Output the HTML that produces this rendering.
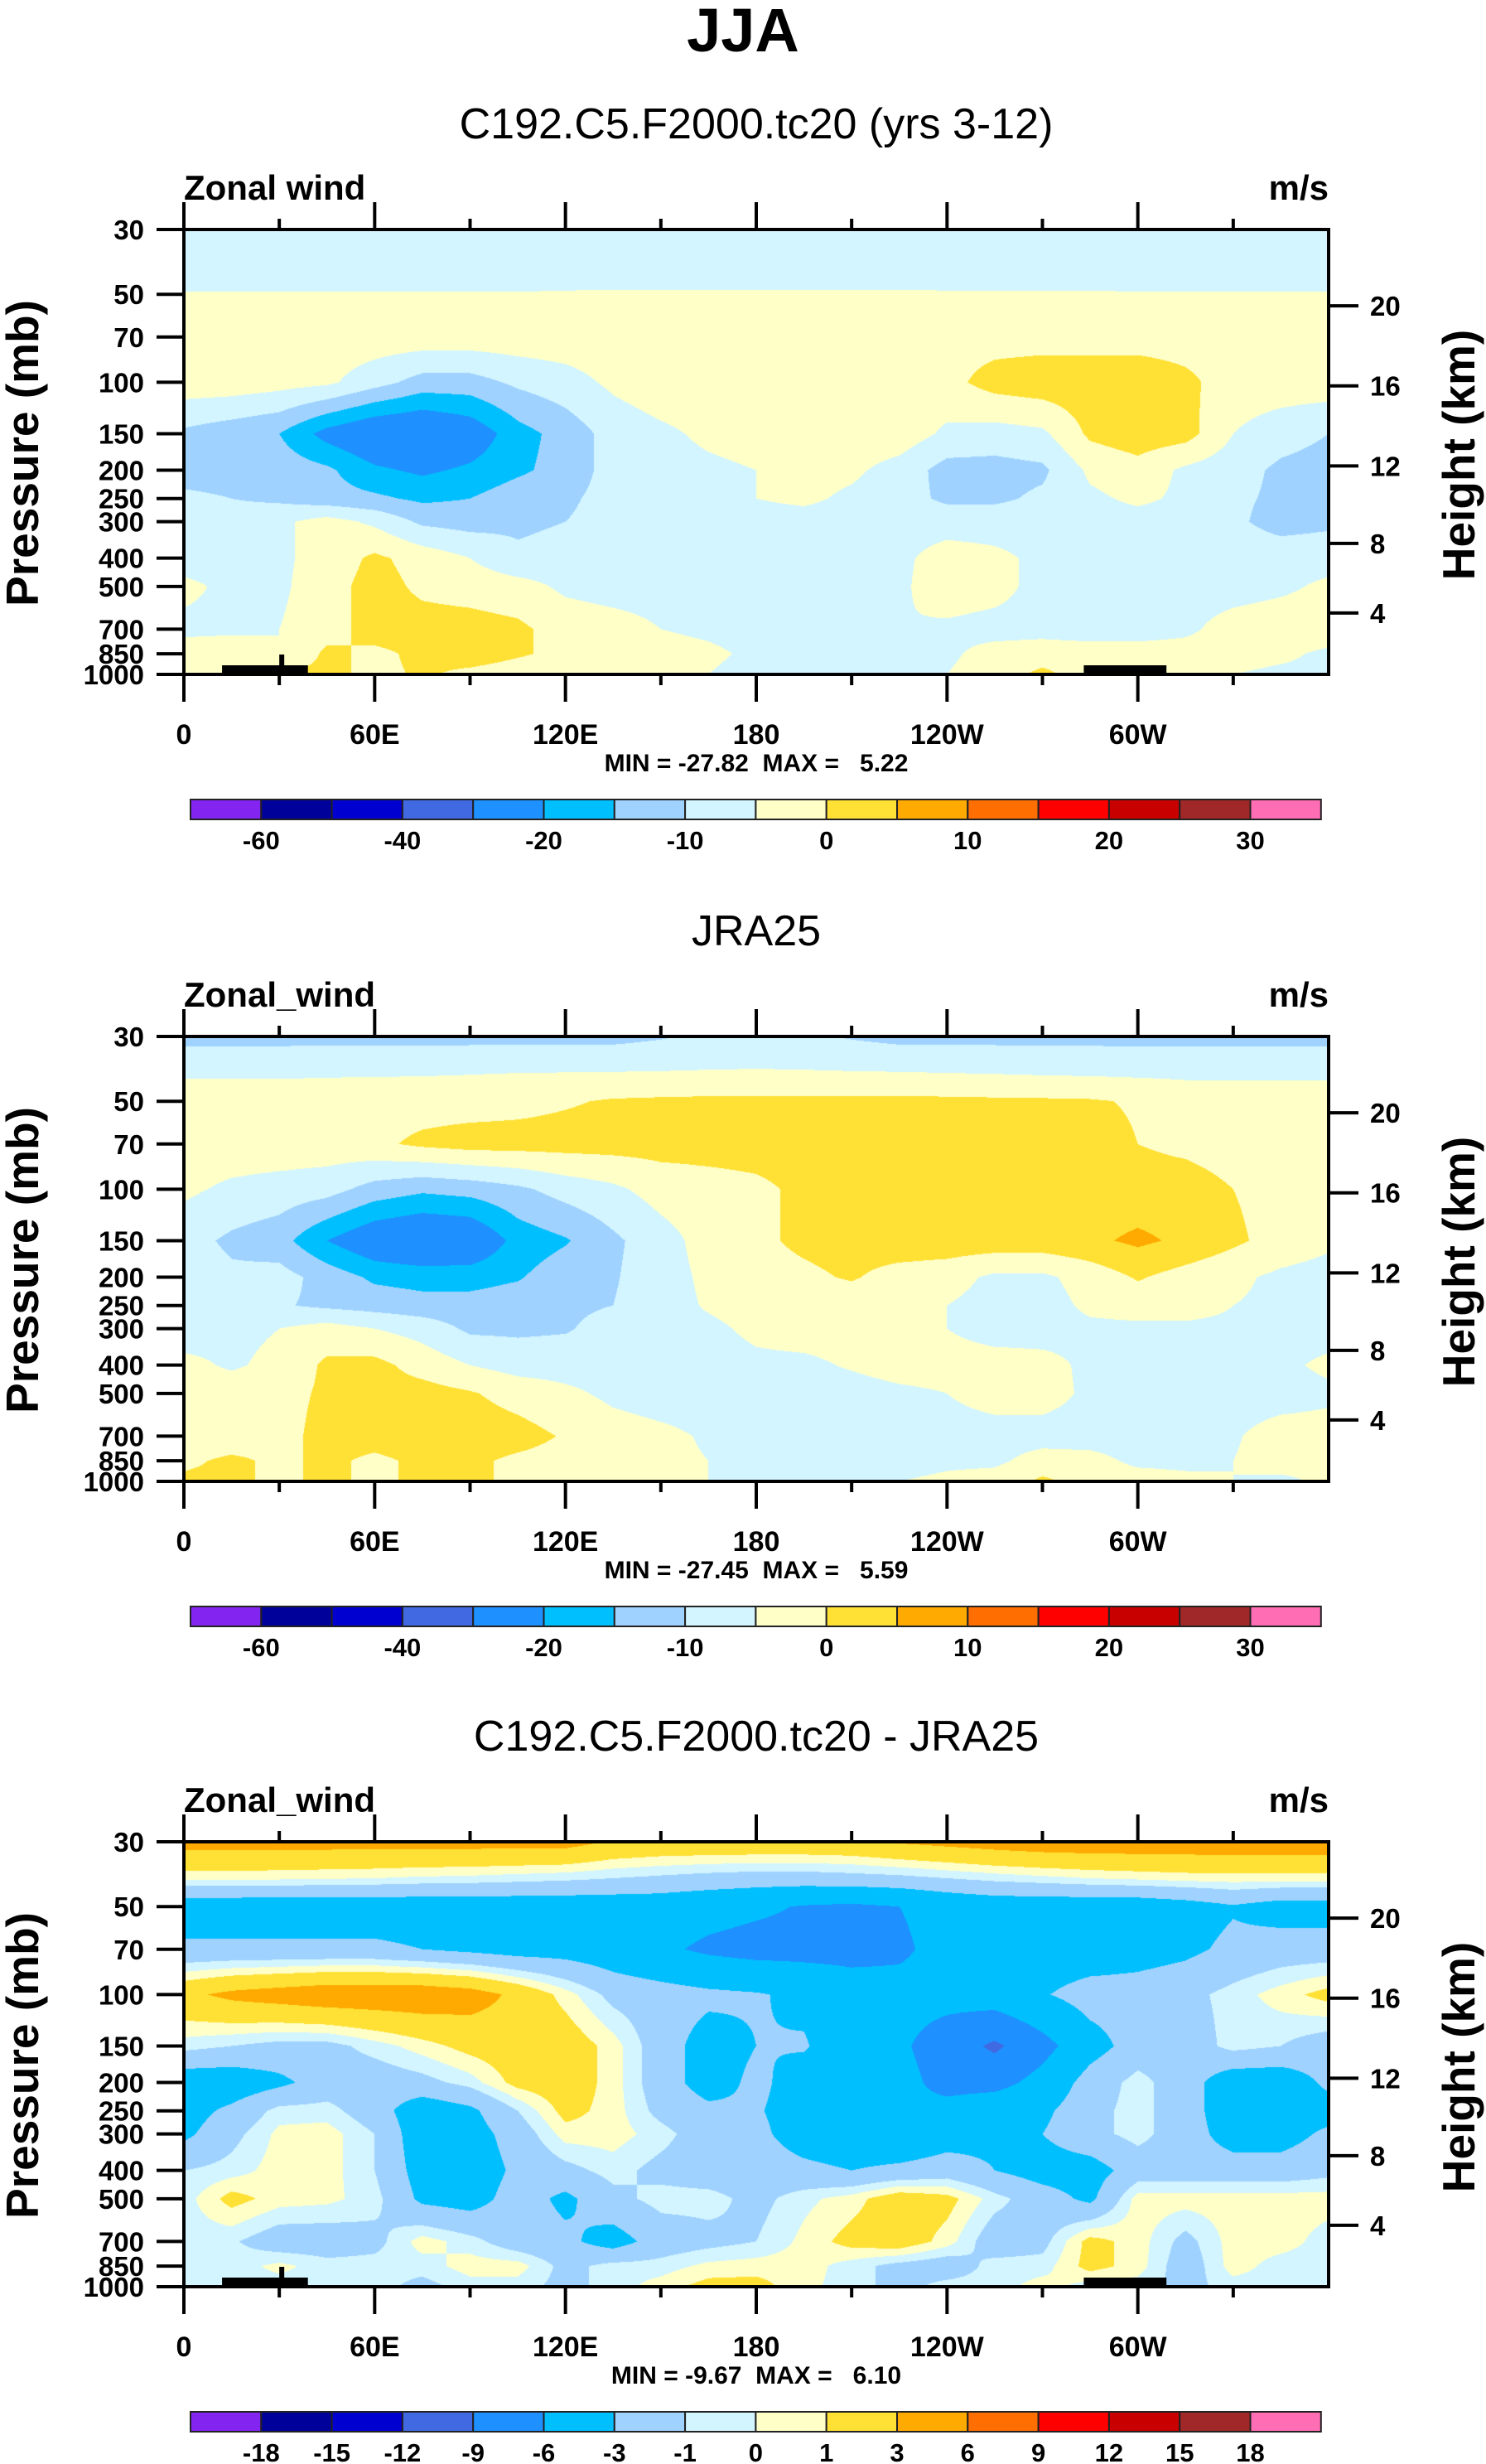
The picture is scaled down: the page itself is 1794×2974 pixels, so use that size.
<!DOCTYPE html>
<html><head><meta charset="utf-8">
<style>
html,body{margin:0;padding:0;background:#fff;}
#page{position:relative;width:1794px;height:2974px;overflow:hidden;background:#fff;}
canvas{position:absolute;}
svg{position:absolute;left:0;top:0;}
text{font-family:"Liberation Sans",sans-serif;fill:#000;}
</style></head>
<body>
<div id="page">
<canvas id="c0" width="1382" height="537" style="left:222px;top:277px"></canvas>
<canvas id="c1" width="1382" height="537" style="left:222px;top:1251px"></canvas>
<canvas id="c2" width="1382" height="537" style="left:222px;top:2223px"></canvas>
<svg id="ov" width="1794" height="2974" xmlns="http://www.w3.org/2000/svg">
<text x="897" y="62" text-anchor="middle" font-size="74" font-weight="bold">JJA</text>
</svg>
</div>
<script>
const levels=[30,40,50,70,100,150,200,250,300,400,500,700,850,1000];
const lonTicks=[0,60,120,180,240,300];
const lonLabels=["0","60E","120E","180","120W","60W"];
const pTicks=[30,50,70,100,150,200,250,300,400,500,700,850,1000];
const zTicks=[4,8,12,16,20];
const absBounds=[-60,-50,-40,-30,-20,-15,-10,-5,0,5,10,15,20,25,30];
const absLabels=["-60","-40","-20","-10","0","10","20","30"];
const absLabelIdx=[0,2,4,6,8,10,12,14];
const diffBounds=[-18,-15,-12,-9,-6,-3,-1,0,1,3,6,9,12,15,18];
const diffLabels=["-18","-15","-12","-9","-6","-3","-1","0","1","3","6","9","12","15","18"];
const diffLabelIdx=[0,1,2,3,4,5,6,7,8,9,10,11,12,13,14];
const colors=["#8424F0","#00009A","#0000D0","#4169E1","#1E90FF","#00BFFF","#A0D2FF","#D2F5FF","#FFFFC8","#FFE135","#FFAA00","#FF6E00","#FF0000","#C80000","#A02828","#FF6EB4"];
const titles=["C192.C5.F2000.tc20 (yrs 3-12)","JRA25","C192.C5.F2000.tc20 - JRA25"];
const leftTitles=["Zonal wind","Zonal_wind","Zonal_wind"];
const minVals=["-27.82","-27.45","-9.67"];
const maxVals=["5.22","5.59","6.10"];
const u1=[
[-8,-8,-8,-8,-8,-8,-8,-8,-8,-8,-8,-8,-8,-8,-8,-8,-8,-8,-8,-8,-8,-8,-8,-8,-8],
[-7,-7,-7,-7,-7,-7,-7,-7,-7,-7,-7,-7,-7,-7,-7,-7,-7,-7,-7,-7,-7,-7,-7,-7,-7],
[-4.8,-4.8,-4.8,-4.8,-4.8,-4.8,-4.8,-4.8,-4.7,-4.6,-4.6,-4.6,-4.6,-4.6,-4.6,-4.6,-4.7,-4.7,-4.7,-4.7,-4.8,-4.8,-4.8,-4.8,-4.8],
[-2,-2,-2,-2,-2,-2,-2,-2,-2,-2,-2,-2,-2,-2,-2,-2,-2,-2,-2,-2,-2,-2,-2,-2,-2],
[-2,-2,-3,-4,-8,-12,-12,-9,-7,-4,-2,-2,-2,-2,-2,-2,-1.5,2,3,3,3,1,-2,-2,-2],
[-11,-13,-15,-22,-26,-27,-24,-17,-13,-8,-6,-4,-3,-2,-2,-2,-6,-7,-6,1,3,2,-5,-8,-10],
[-12,-12,-12,-14,-19,-21,-19,-16,-13,-8,-7,-6,-5,-3,-4,-7,-12,-12,-11,-4,-2,-6,-8,-11,-12],
[-9,-10,-11,-13,-14,-16,-15,-12,-11,-8,-7,-6,-5,-4,-6,-8,-11,-11,-9,-6,-4,-6,-9,-11,-11],
[-10,-8,-6,-3,-6,-11,-12,-11,-10,-8,-7,-7,-7,-7,-7,-7,-7,-7,-7,-7,-7,-7,-9,-12,-11],
[-7,-7,-6,-3,1,-2,-5,-9,-8,-7,-7,-7,-7,-7,-7,-6,-3,-4,-6,-9,-7,-7,-7,-7,-7],
[-4,-6,-6,-2,2,-1,-2,-3,-6,-7,-7,-7,-7,-7,-7,-6,-2,-3,-7,-9,-7,-7,-7,-6,-4],
[-6,-6,-5,-2,2,2,2,1,-2,-3,-5,-6,-7,-7,-7,-5,-6,-7,-7,-8,-7,-6,-3,-2,-2],
[-3,-2,-5,1,-1,1,2,0.5,-1,-2,-3,-4,-6,-7,-7,-7,-6,-3,-2,-2,-3,-3,-3,-4,-6],
[-3,1,1,1,-1,0.5,-1,-2,-3,-4,-5,-5,-7,-7,-7,-7,-5,-2,1,-2,-3,-4,-5,-6,-6]];
const u2=[
[-11.5,-11.5,-11.5,-11.5,-11.5,-11.5,-11.5,-11.5,-11.5,-11.5,-10.5,-9,-9,-9,-10.5,-11.5,-11.5,-11.5,-11.5,-11.5,-11.5,-11.5,-11.5,-11.5,-11.5],
[-5.8,-5.8,-5.8,-5.6,-5.5,-5.4,-5.2,-5,-4.9,-4.8,-4.7,-4.6,-4.5,-4.6,-4.7,-4.8,-5,-5.2,-5.5,-5.7,-5.9,-6,-6,-6,-6],
[-2,-2,-2,-2,-2,-2,-2,-1.5,-0.5,0.5,0.8,1,1,1,1,1,1,0.8,0.7,0.5,-0.5,-2,-2,-2,-2],
[-2,-2,-2,-2,-1,1,2,2,2,2,2,2,2,2,2,2,2,2,2,2,0,-1,-2,-2,-2],
[-4,-6,-7,-8,-12,-14,-13,-11,-8,-6,-3,-2,-1,1,2,2,2,2,2,2,2,2,0,-2,-3],
[-8,-11,-13,-20,-25,-27,-26,-18,-15.5,-11,-7,-3,-1,1,2,3,3,3,3,4,6,4,1,-2,-4],
[-7,-9,-8,-12,-16,-17,-17,-15.5,-12,-10.5,-7,-4,-2,-1,0.5,-2,-3,-6,-6,-3,0.5,-2,-4,-6,-7],
[-7,-7,-9.5,-11,-12,-13,-13,-12,-11,-10,-7,-4.5,-3,-3,-3,-3,-5,-7,-7,-4,-3,-3,-5,-6,-7],
[-7,-6,-5,-3,-5,-7,-11,-11,-10.5,-8,-7,-6,-4,-3,-3,-4,-5,-7,-7,-6,-6,-6,-6,-7,-7],
[-4,-5.5,-4,1,1.5,-2,-5,-7,-7,-7,-7,-7,-6,-6,-4.5,-3,-3,-3,-3.5,-6,-7,-7,-7,-6,-4],
[-3,-3,-2,1,2,2,0.5,-2,-4,-6,-7,-7,-7,-7,-7,-6,-5,-3,-3,-6,-7,-7,-7,-7,-6],
[-3,-3,-2,2,2,3,3,2,-0.5,-3,-4,-5.5,-7,-7,-7,-7,-7,-7,-7,-7,-7,-7,-5.5,-3,-3],
[-1,1,-1,1,-1,1,1,-1,-2,-3,-4,-5,-7,-7,-7,-7,-6,-6,-3,-3.5,-6,-6,-5,-3,-4],
[1,1,-1,1,-1,1,1,-1,-2,-3,-4,-5,-7,-7,-6,-5,-4,-3,1,-2,-3,-4,-5,-6,-4]];
const u3=[
[3.8,3.8,3.8,3.8,3.8,3.8,3.8,3.8,3.8,2.8,2.5,2.5,2.5,2.5,2.6,3.2,3.6,4,4.3,4.4,4.4,4.4,4.4,4.4,4.4],
[0.3,0.3,0.2,0.1,0,-0.2,-0.3,-0.5,-0.7,-1,-1.3,-1.6,-1.8,-1.8,-1.6,-1.4,-1,-0.6,-0.3,0,0.2,0.4,0.5,0.5,0.5],
[-4.5,-4.5,-4.5,-4.5,-4.5,-4.5,-4.5,-4.5,-4.5,-4.5,-4.5,-5,-5.5,-6.2,-6.5,-6,-5,-4.5,-4.5,-4.5,-4.5,-4,-3.2,-4,-4],
[-2.5,-2.5,-2.5,-2.5,-2.5,-3,-3.5,-4,-4,-4.5,-5.5,-6.5,-7,-7,-7,-6.5,-5,-4.5,-4.5,-4.5,-4,-3.5,-2.5,-2,-2],
[2.5,3.5,4,4.5,4.5,4.5,4,2.5,0.5,-1.5,-2,-2.5,-2.8,-3.5,-4.5,-5,-5,-4.5,-3.2,-2,-2,-1.5,-0.5,0.5,1.5],
[-0.5,-1,-1.5,-1.5,-0.5,0.5,1.5,2,2,0.5,-2,-4,-3,-2.8,-4.5,-5.5,-7.5,-9.5,-7,-4,-2,-2,-0.5,-1,-2],
[-4.5,-4.5,-3.5,-2,-2,-1.5,-0.5,1.5,2,0.5,-2,-4,-2.5,-4,-4.5,-5,-7,-7,-5,-2,-0.5,-2,-4.5,-4.5,-2.5],
[-4,-2.5,-0.5,-0.5,-2,-4.5,-3.5,-1,1.5,0.5,-1.5,-2.5,-2.8,-4,-5,-5.5,-5,-4,-3.5,-1.5,-0.5,-2,-4.5,-4.5,-4],
[-3.5,-1.5,0.3,0.5,-1,-4.5,-4,-2,0.5,0.5,-0.5,-2,-2.5,-4,-4.5,-5,-4,-3.5,-3,-1.5,-0.5,-2,-4,-4,-2.5],
[-1,-0.5,0.5,0.5,-1,-4,-4.5,-2.5,-1.5,-0.5,-1.5,-2,-2,-2.5,-3,-2.5,-2,-3,-4,-4,-2,-2,-2,-2,-1.5],
[-0.5,1.5,0.5,0.3,-0.5,-3.5,-4,-2,-3.5,-1.5,-0.5,-0.5,-1.5,-0.3,0.5,2,1.5,-0.5,-2,-3.5,0.5,0.5,0.5,0.5,0.5],
[-0.5,-0.8,-2,-2,-1.5,0.5,-0.5,-2,-2.5,-4,-2,-1.5,-1,0.3,1.5,2,0.5,-2,-1.5,1.5,0.5,-1.5,0.5,0.5,-0.5],
[-0.5,-0.5,0.3,-0.5,-0.5,-0.5,0.5,0.5,-1.5,-0.5,-0.5,0.3,0.5,0.5,-0.5,-1.5,-2,-0.5,-0.5,1.5,0.5,-2,0.5,-0.5,-0.5],
[-0.5,-0.5,-0.5,-0.5,-0.5,-1.5,-0.5,-0.5,-1.5,-0.5,0.5,1.5,1.5,0.3,-0.5,-1.5,-0.5,-0.5,0.5,-0.5,-0.5,-1.5,-0.5,-0.5,-0.5]];

const NS="http://www.w3.org/2000/svg";
const ov=document.getElementById('ov');
const PX0=222,PX1=1604,PH=537;
const panelTops=[277,1251,2223];
const W=PX1-PX0;
const lnTop=Math.log(30),lnBot=Math.log(1000);
function yOfP(p){return PH*(Math.log(p)-lnTop)/(lnBot-lnTop);}
function xOfLon(l){return W*l/360;}
function pOfZ(zkm){const z=zkm*1000;if(z<=11000)return 1013.25*Math.pow(1-2.25577e-5*z,5.25588);return 226.32*Math.exp(-(z-11000)/6341.6);}
function hexRGB(h){return [parseInt(h.substr(1,2),16),parseInt(h.substr(3,2),16),parseInt(h.substr(5,2),16)];}
const rgb=colors.map(hexRGB);

function drawField(cid,grid,bounds){
  const cv=document.getElementById(cid);const ctx=cv.getContext('2d');
  const img=ctx.createImageData(W,PH);const d=img.data;
  const lnl=levels.map(Math.log);
  const ri=[],rf=[];
  for(let py=0;py<PH;py++){
    const lp=lnTop+(py+0.5)/PH*(lnBot-lnTop);
    let k=0;while(k<levels.length-2&&lnl[k+1]<lp)k++;
    ri.push(k);rf.push(Math.min(1,Math.max(0,(lp-lnl[k])/(lnl[k+1]-lnl[k]))));
  }
  for(let px=0;px<W;px++){
    const fx=(px+0.5)/W*24;let i=Math.min(23,Math.floor(fx));const tx=fx-i;
    for(let py=0;py<PH;py++){
      const k=ri[py],ty=rf[py];
      const a=grid[k][i]*(1-tx)+grid[k][i+1]*tx;
      const b=grid[k+1][i]*(1-tx)+grid[k+1][i+1]*tx;
      const v=a*(1-ty)+b*ty;
      let c=0;while(c<bounds.length&&v>=bounds[c])c++;
      const o=(py*W+px)*4;const col=rgb[c];
      d[o]=col[0];d[o+1]=col[1];d[o+2]=col[2];d[o+3]=255;
    }
  }
  ctx.putImageData(img,0,0);
}
drawField('c0',u1,absBounds);
drawField('c1',u2,absBounds);
drawField('c2',u3,diffBounds);

function mk(tag,attrs,txt){const e=document.createElementNS(NS,tag);for(const k in attrs)e.setAttribute(k,attrs[k]);if(txt!==undefined)e.textContent=txt;ov.appendChild(e);return e;}

for(let p=0;p<3;p++){
  const T=panelTops[p];
  let e;
  e=mk('text',{x:913,y:T-110,'text-anchor':'middle','font-size':52},titles[p]);
  
  
  e=mk('text',{x:PX0,y:T-36,'font-size':42,'font-weight':'bold'},leftTitles[p]);
  
  
  e=mk('text',{x:PX1,y:T-36,'text-anchor':'end','font-size':42,'font-weight':'bold'},'m/s');
  
  
  if(p!==1){
    const tb=T+PH;
    e=mk('rect',{x:PX0+xOfLon(12),y:tb-11,width:xOfLon(27),height:11,fill:'#000'});
    
    
    e=mk('rect',{x:PX0+xOfLon(30),y:tb-24,width:6,height:24,fill:'#000'});
    
    
    e=mk('rect',{x:PX0+xOfLon(283),y:tb-11,width:xOfLon(26),height:11,fill:'#000'});
    
    
  }
  e=mk('rect',{x:PX0,y:T,width:W,height:PH,fill:'none',stroke:'#000','stroke-width':4});
  
  
  for(let l=0;l<=330;l+=30){
    const x=PX0+xOfLon(l);const len=(l%60===0)?33:13;
    e=mk('line',{x1:x,y1:T,x2:x,y2:T-len,stroke:'#000','stroke-width':4});
    
    
    e=mk('line',{x1:x,y1:T+PH,x2:x,y2:T+PH+len,stroke:'#000','stroke-width':4});
    
    
  }
  lonTicks.forEach((l,i)=>{
    const t=mk('text',{x:PX0+xOfLon(l),y:T+PH+84,'text-anchor':'middle','font-size':34,'font-weight':'bold'},lonLabels[i]);
    
    
  });
  pTicks.forEach(pv=>{
    const y=T+yOfP(pv);
    const l=mk('line',{x1:PX0-33,y1:y,x2:PX0,y2:y,stroke:'#000','stroke-width':4});
    
    
    const t=mk('text',{x:PX0-48,y:y+12,'text-anchor':'end','font-size':33,'font-weight':'bold'},String(pv));
    
    
  });
  zTicks.forEach(z=>{
    const y=T+yOfP(pOfZ(z));
    const l=mk('line',{x1:PX1,y1:y,x2:PX1+36,y2:y,stroke:'#000','stroke-width':4});
    
    
    const t=mk('text',{x:PX1+50,y:y+12,'font-size':33,'font-weight':'bold'},String(z));
    
    
  });
  e=mk('text',{x:0,y:0,'text-anchor':'middle','font-size':55,'font-weight':'bold',transform:`translate(46,${T+270}) rotate(-90)`},'Pressure (mb)');
  
  
  e=mk('text',{x:0,y:0,'text-anchor':'middle','font-size':55,'font-weight':'bold',transform:`translate(1780,${T+272}) rotate(-90)`},'Height (km)');
  
  
  e=mk('text',{x:913,y:T+654,'text-anchor':'middle','font-size':30,'font-weight':'bold','xml:space':'preserve'},'MIN = '+minVals[p]+'  MAX =   '+maxVals[p]);
  e.style.whiteSpace='pre';
  
  
  const cy=T+688,bw=85.3,cx0=230;
  colors.forEach((c,i)=>{
    const r=mk('rect',{x:cx0+i*bw,y:cy,width:bw,height:24,fill:c,stroke:'#222','stroke-width':2});
    
    
  });
  const labs=p<2?absLabels:diffLabels;const idx=p<2?absLabelIdx:diffLabelIdx;
  labs.forEach((s,i)=>{
    const t=mk('text',{x:cx0+(idx[i]+1)*bw,y:cy+60,'text-anchor':'middle','font-size':31,'font-weight':'bold'},s);
    
    
  });
}
</script>
</body></html>
